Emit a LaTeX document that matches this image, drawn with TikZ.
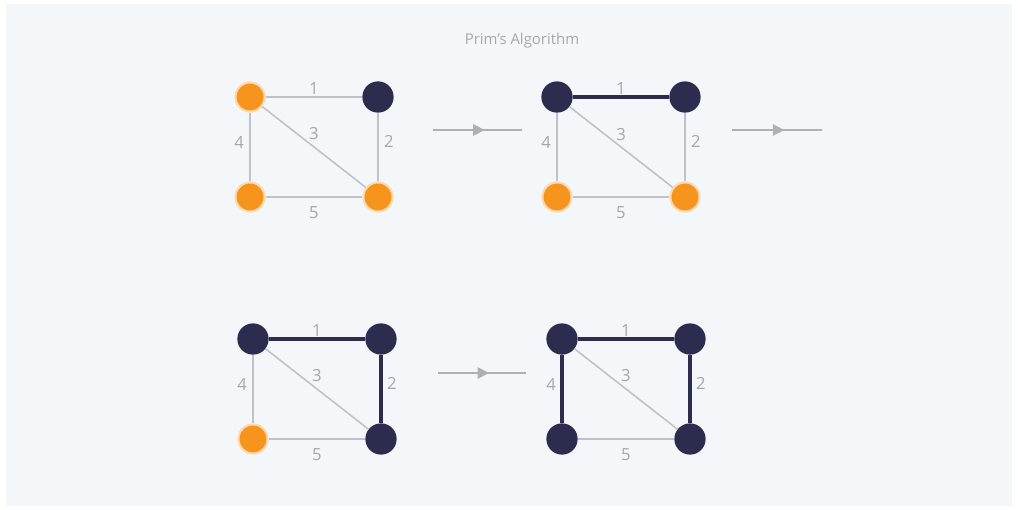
\documentclass[tikz,border=0pt]{standalone}
\usepackage{fontspec}
\setmainfont{Open Sans}
\usetikzlibrary{arrows.meta,decorations.markings}
\definecolor{primbg}{RGB}{244,247,250}
\definecolor{primorange}{RGB}{247,148,29}
\definecolor{primnavy}{RGB}{43,44,78}
\definecolor{primgray}{RGB}{192,194,200}
\definecolor{primtext}{RGB}{165,167,172}
\tikzset{
  vfree/.style={circle,fill=primorange,draw=primorange!35,line width=1.2pt,minimum size=16.6pt,inner sep=0pt},
  vtree/.style={circle,fill=primnavy,minimum size=17.8pt,inner sep=0pt},
  eidle/.style={draw=primgray,line width=0.9pt},
  etree/.style={draw=primnavy,line width=2.2pt},
  wlbl/.style={font=\fontsize{9.5}{9.5}\selectfont,text=primtext,inner sep=0pt},
  stepto/.style={draw=primtext!90,line width=0.8pt,postaction={decorate},
    decoration={markings,mark=at position 0.58 with {\arrow{Triangle[length=6.5pt,width=6.5pt]}}}}
}
% #1 prefix, #2-#5 vertices (tl,tr,bl,br), #6-#8 edges 1,2,4
\newcommand{\primgraph}[8]{%
  \node[#2](#1a)at(0,0){};
  \node[#3](#1b)at(128,0){};
  \node[#4](#1c)at(0,100){};
  \node[#5](#1d)at(128,100){};
  \draw[#6](#1a)--node[wlbl,yshift=5pt](#1w1){1}(#1b);
  \draw[#7](#1b)--node[wlbl,xshift=6.2pt,yshift=3pt](#1w2){2}(#1d);
  \draw[eidle](#1a)--node[wlbl,yshift=7.4pt](#1w3){3}(#1d);
  \draw[#8](#1a)--node[wlbl,xshift=-6.2pt,yshift=2.5pt](#1w4){4}(#1c);
  \draw[eidle](#1c)--node[wlbl,yshift=-9pt](#1w5){5}(#1d);
}

\begin{document}
\begin{tikzpicture}[x=0.02cm,y=-0.02cm]
  \useasboundingbox[fill=white](0,0)rectangle(1018,510);
  \fill[primbg](6,4)rectangle(1012,506);
  \node[font=\fontsize{8.5}{8.5}\selectfont,text=primtext](title)at(522,41){Prim's Algorithm};
  \begin{scope}[shift={(250,97)}]
    \primgraph{g1}{vfree}{vtree}{vfree}{vfree}{eidle}{eidle}{eidle}
  \end{scope}
  \begin{scope}[shift={(557,97)}]
    \primgraph{g2}{vtree}{vtree}{vfree}{vfree}{etree}{eidle}{eidle}
  \end{scope}
  \begin{scope}[shift={(253,339)}]
    \primgraph{g3}{vtree}{vtree}{vfree}{vtree}{etree}{etree}{eidle}
  \end{scope}
  \begin{scope}[shift={(562,339)}]
    \primgraph{g4}{vtree}{vtree}{vtree}{vtree}{etree}{etree}{etree}
  \end{scope}
  % step arrows
  \coordinate(s1a)at(433,130);\coordinate(s1b)at(522,130);
  \coordinate(s2a)at(732,130);\coordinate(s2b)at(822,130);
  \coordinate(s3a)at(438,373);\coordinate(s3b)at(526,373);
  \draw[stepto](s1a)--(s1b);
  \draw[stepto](s2a)--(s2b);
  \draw[stepto](s3a)--(s3b);
\end{tikzpicture}
\end{document}
